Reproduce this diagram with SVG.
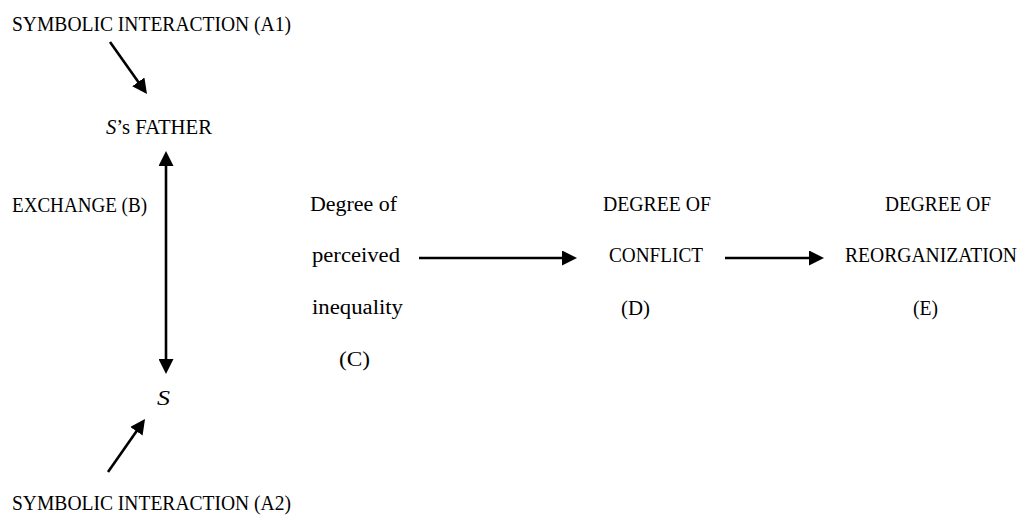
<svg xmlns="http://www.w3.org/2000/svg" width="1027" height="515" viewBox="0 0 1027 515">
  <style>
    text { font-family: "Liberation Serif", "Times New Roman", serif; font-size: 20.5px; fill: #000; }
    .it { font-style: italic; }
    .edge { stroke: #000; stroke-width: 2.6; fill: none; }
  </style>
  <defs>
    <marker id="head" viewBox="0 0 15 15" refX="5" refY="7.5" markerWidth="15" markerHeight="15" markerUnits="userSpaceOnUse" orient="auto-start-reverse">
      <path d="M0,0 L15,7.5 L0,15 Z" fill="#000"/>
    </marker>
  </defs>
  <rect width="1027" height="515" fill="#fff"/>

  <g id="connectors">
    <!-- A1 to father -->
    <line class="edge" x1="110" y1="42" x2="141.2" y2="85.9" marker-end="url(#head)"/>
    <!-- exchange between father and S -->
    <line class="edge" x1="166" y1="161" x2="166" y2="364" marker-start="url(#head)" marker-end="url(#head)"/>
    <!-- A2 to S -->
    <line class="edge" x1="108" y1="472" x2="139.3" y2="427.2" marker-end="url(#head)"/>
    <!-- C to D -->
    <line class="edge" x1="419" y1="258" x2="567" y2="258" marker-end="url(#head)"/>
    <!-- D to E -->
    <line class="edge" x1="725" y1="258" x2="814" y2="258" marker-end="url(#head)"/>
  </g>

  <g id="node-a1">
    <text x="12" y="31" textLength="279" lengthAdjust="spacingAndGlyphs">SYMBOLIC INTERACTION (A1)</text>
  </g>
  <g id="node-father">
    <text x="106" y="134" textLength="106" lengthAdjust="spacingAndGlyphs"><tspan class="it">S</tspan>’s FATHER</text>
  </g>
  <g id="node-b">
    <text x="12" y="212" textLength="135" lengthAdjust="spacingAndGlyphs">EXCHANGE (B)</text>
  </g>
  <g id="node-s">
    <text class="it" x="157" y="405" textLength="13" lengthAdjust="spacingAndGlyphs">S</text>
  </g>
  <g id="node-a2">
    <text x="12" y="510" textLength="279" lengthAdjust="spacingAndGlyphs">SYMBOLIC INTERACTION (A2)</text>
  </g>
  <g id="node-c">
    <text x="310" y="211" textLength="87" lengthAdjust="spacingAndGlyphs">Degree of</text>
    <text x="312" y="262" textLength="88" lengthAdjust="spacingAndGlyphs">perceived</text>
    <text x="312" y="314" textLength="91" lengthAdjust="spacingAndGlyphs">inequality</text>
    <text x="339" y="366" textLength="31" lengthAdjust="spacingAndGlyphs">(C)</text>
  </g>
  <g id="node-d">
    <text x="603" y="211" textLength="108" lengthAdjust="spacingAndGlyphs">DEGREE OF</text>
    <text x="609" y="262" textLength="94" lengthAdjust="spacingAndGlyphs">CONFLICT</text>
    <text x="621" y="315" textLength="29" lengthAdjust="spacingAndGlyphs">(D)</text>
  </g>
  <g id="node-e">
    <text x="885" y="211" textLength="106" lengthAdjust="spacingAndGlyphs">DEGREE OF</text>
    <text x="845" y="262" textLength="172" lengthAdjust="spacingAndGlyphs">REORGANIZATION</text>
    <text x="913" y="315" textLength="25" lengthAdjust="spacingAndGlyphs">(E)</text>
  </g>
</svg>
